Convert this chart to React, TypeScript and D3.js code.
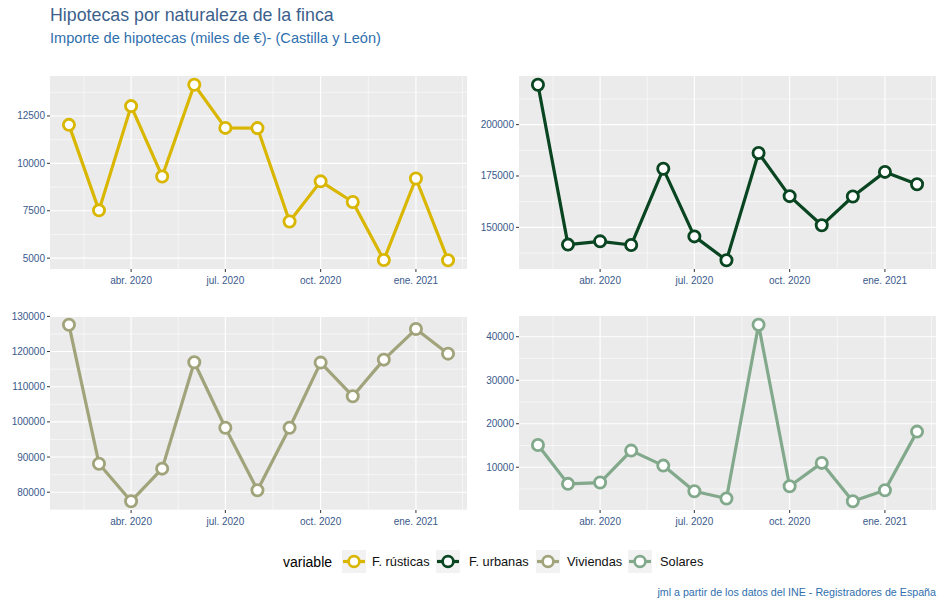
import React from "react";
import * as d3 from "d3";

const months = [
  "2020-02-01", "2020-03-01", "2020-04-01", "2020-05-01", "2020-06-01", "2020-07-01",
  "2020-08-01", "2020-09-01", "2020-10-01", "2020-11-01", "2020-12-01", "2021-01-01", "2021-02-01",
];
const rusticas = [12030, 7520, 13020, 9310, 14145, 11870, 11860, 6930, 9050, 7960, 4900, 9200, 4890];
const urbanas = [219400, 141600, 143200, 141400, 178500, 145600, 134000, 186200, 165200, 151000, 165000, 177000, 171000];
const viviendas = [127600, 88100, 77450, 86700, 116950, 98330, 80570, 98330, 116860, 107300, 117700, 126400, 119400];
const solares = [15130, 6180, 6480, 13830, 10380, 4490, 2810, 42740, 5640, 11000, 2200, 4720, 18190];

const seriesNames = ["F. rústicas", "F. urbanas", "Viviendas", "Solares"];
const seriesColors = ["#d9b700", "#0a4521", "#a1a37a", "#82a98b"];

const ticksRusticas = [5000, 7500, 10000, 12500];
const ticksUrbanas = [150000, 175000, 200000];
const ticksViviendas = [80000, 90000, 100000, 110000, 120000, 130000];
const ticksSolares = [10000, 20000, 30000, 40000];

const xTickDates = ["2020-04-01", "2020-07-01", "2020-10-01", "2021-01-01"];
const xTickLabels = ["abr. 2020", "jul. 2020", "oct. 2020", "ene. 2021"];
const xAllBreaks = ["2020-01-01", "2020-04-01", "2020-07-01", "2020-10-01", "2021-01-01", "2021-04-01"];

const titleText = "Hipotecas por naturaleza de la finca";
const subtitleText = "Importe de hipotecas (miles de €)- (Castilla y León)";
const captionText = "jml a partir de los datos del INE - Registradores de España";
const legendTitle = "variable";

const FONT = "'Liberation Sans', Arial, sans-serif";
const TICK_COLOR = "#3a5a8c";

const parse = d3.utcParse("%Y-%m-%d");

type PanelProps = {
  values: number[];
  ticks: number[];
  color: string;
  x0: number; x1: number; y0: number; y1: number;
};

function Panel({ values, ticks, color, x0, x1, y0, y1 }: PanelProps) {
  const dates = months.map((m) => parse(m)!);
  const [dmin, dmax] = d3.extent(dates) as [Date, Date];
  const span = +dmax - +dmin;
  const x = d3.scaleUtc()
    .domain([new Date(+dmin - span * 0.05), new Date(+dmax + span * 0.05)])
    .range([x0, x1]);
  const [vmin, vmax] = d3.extent(values) as [number, number];
  const vr = vmax - vmin;
  const y = d3.scaleLinear().domain([vmin - vr * 0.05, vmax + vr * 0.05]).range([y1, y0]);

  const breaks = xAllBreaks.map((d) => parse(d)!);
  const xMinor: Date[] = [];
  for (let i = 0; i < breaks.length - 1; i++) {
    xMinor.push(new Date((+breaks[i] + +breaks[i + 1]) / 2));
  }
  const step = ticks[1] - ticks[0];
  const yAll = [ticks[0] - step, ...ticks, ticks[ticks.length - 1] + step];
  const yMinor: number[] = [];
  for (let i = 0; i < yAll.length - 1; i++) yMinor.push((yAll[i] + yAll[i + 1]) / 2);

  const inX = (px: number) => px >= x0 && px <= x1;
  const inY = (py: number) => py >= y0 && py <= y1;

  const line = d3.line<number>()
    .x((_, i) => x(dates[i]))
    .y((v) => y(v));

  return (
    <g>
      <rect x={x0} y={y0} width={x1 - x0} height={y1 - y0} fill="#ebebeb" />
      {yMinor.map((v, i) => inY(y(v)) ? (
        <line key={"ym" + i} x1={x0} x2={x1} y1={y(v)} y2={y(v)} stroke="#fff" strokeWidth={0.55} />
      ) : null)}
      {xMinor.map((d, i) => inX(x(d)) ? (
        <line key={"xm" + i} x1={x(d)} x2={x(d)} y1={y0} y2={y1} stroke="#fff" strokeWidth={0.55} />
      ) : null)}
      {ticks.map((v, i) => (
        <line key={"yM" + i} x1={x0} x2={x1} y1={y(v)} y2={y(v)} stroke="#fff" strokeWidth={1.1} />
      ))}
      {xTickDates.map((d, i) => (
        <line key={"xM" + i} x1={x(parse(d)!)} x2={x(parse(d)!)} y1={y0} y2={y1} stroke="#fff" strokeWidth={1.1} />
      ))}
      <path d={line(values) || ""} fill="none" stroke={color} strokeWidth={3.2} strokeLinejoin="round" />
      {values.map((v, i) => (
        <circle key={"p" + i} cx={x(dates[i])} cy={y(v)} r={5.6} fill="#fff" stroke={color} strokeWidth={2.8} />
      ))}
      {ticks.map((v, i) => (
        <g key={"yt" + i}>
          <line x1={x0 - 3} x2={x0} y1={y(v)} y2={y(v)} stroke="#333" strokeWidth={1} />
          <text x={x0 - 5} y={y(v)} dy="0.35em" textAnchor="end" fontSize={10} fill={TICK_COLOR} fontFamily={FONT}>
            {v}
          </text>
        </g>
      ))}
      {xTickDates.map((d, i) => {
        const px = x(parse(d)!);
        return (
          <g key={"xt" + i}>
            <line x1={px} x2={px} y1={y1} y2={y1 + 3} stroke="#333" strokeWidth={1} />
            <text x={px} y={y1 + 15} textAnchor="middle" fontSize={10} fill={TICK_COLOR} fontFamily={FONT}>
              {xTickLabels[i]}
            </text>
          </g>
        );
      })}
    </g>
  );
}

function LegendKey({ x, y, color }: { x: number; y: number; color: string }) {
  return (
    <g>
      <rect x={x} y={y} width={24} height={23} fill="#f2f2f2" />
      <line x1={x + 1} x2={x + 23} y1={y + 11.5} y2={y + 11.5} stroke={color} strokeWidth={3.2} />
      <circle cx={x + 12} cy={y + 11.5} r={5.4} fill="#fff" stroke={color} strokeWidth={2.7} />
    </g>
  );
}

export default function App() {
  const W = 944, H = 607;
  const L = { x0: 50, x1: 467 };
  const R = { x0: 519, x1: 936 };
  const T = { y0: 76, y1: 269 };
  const B = { y0: 316, y1: 510 };
  const keyX = [342, 436, 536, 628];
  const labelX = [372, 469, 567, 660];
  return (
    <svg width={W} height={H} style={{ position: "absolute", left: 0, top: 0, background: "#fff" }}>
      <rect x={0} y={0} width={W} height={H} fill="#fff" />
      <text x={50} y={21} fontSize={17.8} fill="#3c5f8c" fontFamily={FONT}>{titleText}</text>
      <text x={50} y={43} fontSize={14.6} fill="#2f6fae" fontFamily={FONT}>{subtitleText}</text>

      <Panel values={rusticas} ticks={ticksRusticas} color={seriesColors[0]} {...L} {...T} />
      <Panel values={urbanas} ticks={ticksUrbanas} color={seriesColors[1]} {...R} {...T} />
      <Panel values={viviendas} ticks={ticksViviendas} color={seriesColors[2]} {...L} {...B} />
      <Panel values={solares} ticks={ticksSolares} color={seriesColors[3]} {...R} {...B} />

      <text x={283} y={567} fontSize={14} fill="#000" fontFamily={FONT}>{legendTitle}</text>
      {seriesNames.map((n, i) => (
        <g key={n}>
          <LegendKey x={keyX[i]} y={550} color={seriesColors[i]} />
          <text x={labelX[i]} y={566} fontSize={12.8} fill="#111" fontFamily={FONT}>{n}</text>
        </g>
      ))}

      <text x={936} y={596} textAnchor="end" fontSize={10.7} fill="#2f6fae" fontFamily={FONT}>{captionText}</text>
    </svg>
  );
}
